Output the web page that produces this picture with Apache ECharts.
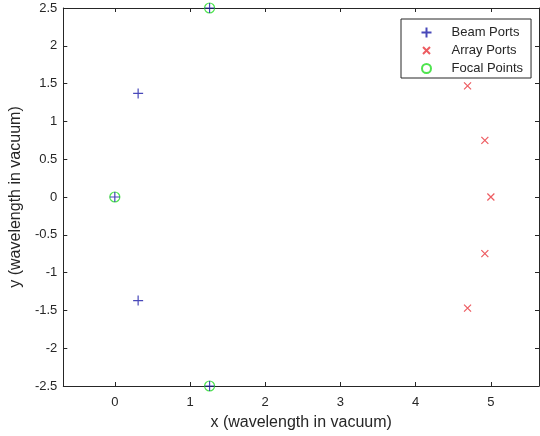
<!DOCTYPE html>
<html>
<head>
<meta charset="utf-8">
<script src="https://cdn.jsdelivr.net/npm/echarts@6/dist/echarts.min.js"></script>
<style>
  html, body { margin: 0; padding: 0; background: #fff; }
  #chart { width: 540px; height: 436px; }
</style>
</head>
<body>
<div id="chart"></div>
<script>
// values
const beamPorts = [[0, 0], [0.31, 1.37], [0.31, -1.37], [1.26, 2.5], [1.26, -2.5]]
const arrayPorts = [[4.69, 1.47], [4.92, 0.75], [5.0, 0], [4.92, -0.75], [4.69, -1.47]]
const focalPoints = [[0, 0], [1.26, 2.5], [1.26, -2.5]]
const xTicks = [0, 1, 2, 3, 4, 5]
const yTicks = [-2.5, -2, -1.5, -1, -0.5, 0, 0.5, 1, 1.5, 2, 2.5]

const axisColor = '#262626'
const font = 'Liberation Sans, Arial, sans-serif'
const plusPath = 'path://M0,5L10,5M5,0L5,10'
const crossPath = 'path://M0,0L10,10M10,0L0,10'
// legend icons: padded with invisible move-to points so they keep the marker size
const plusIcon = 'path://M0,0M14,14M2,7L12,7M7,2L7,12'
const crossIcon = 'path://M0,0M14,14M3.5,3.5L10.5,10.5M10.5,3.5L3.5,10.5'
const circleIcon = 'path://M0,0M14,14M11.5,7A4.5,4.5,0,1,1,2.5,7A4.5,4.5,0,1,1,11.5,7Z'

const xRange = { min: -0.685, max: 5.64 }
const yRange = { min: -2.5, max: 2.5 }

function frameAxis (extra, ticks) {
  return Object.assign({
    type: 'value',
    axisLine: { show: true, onZero: false, lineStyle: { color: axisColor, width: 1 } },
    axisTick: { show: true, inside: true, length: 4, customValues: ticks, lineStyle: { color: axisColor } },
    splitLine: { show: false },
    axisLabel: { show: false }
  }, extra)
}

const chart = echarts.init(document.getElementById('chart'))
chart.setOption({
  animation: false,
  backgroundColor: '#fff',
  textStyle: { fontFamily: font },
  grid: { left: 62, right: 1, top: 8, bottom: 49 },
  xAxis: [
    frameAxis(Object.assign({}, xRange, {
      position: 'bottom',
      name: 'x (wavelength in vacuum)',
      nameLocation: 'middle',
      nameGap: 29,
      nameTextStyle: { color: axisColor, fontSize: 16, fontFamily: font },
      axisLabel: { show: true, customValues: xTicks, color: axisColor, fontSize: 13, margin: 10, fontFamily: font }
    }), xTicks),
    frameAxis(Object.assign({}, xRange, { position: 'top' }), xTicks)
  ],
  yAxis: [
    frameAxis(Object.assign({}, yRange, {
      position: 'left',
      name: 'y (wavelength in vacuum)',
      nameLocation: 'middle',
      nameGap: 30,
      nameTextStyle: { color: axisColor, fontSize: 16, fontFamily: font },
      axisLabel: { show: true, customValues: yTicks, color: axisColor, fontSize: 13, margin: 6, fontFamily: font }
    }), yTicks),
    frameAxis(Object.assign({}, yRange, { position: 'right' }), yTicks)
  ],
  legend: {
    orient: 'vertical',
    left: 401,
    top: 19,
    padding: [4, 8, 0, 16],
    itemWidth: 40,
    itemHeight: 14,
    itemGap: -1,
    backgroundColor: '#fff',
    borderColor: axisColor,
    borderWidth: 1,
    borderRadius: 0,
    textStyle: { color: axisColor, fontSize: 13, lineHeight: 14, fontFamily: font },
    data: [
      { name: 'Beam Ports', icon: plusIcon },
      { name: 'Array Ports', icon: crossIcon },
      { name: 'Focal Points', icon: circleIcon }
    ]
  },
  series: [
    {
      name: 'Focal Points',
      type: 'scatter',
      data: focalPoints,
      symbol: 'circle',
      symbolSize: 10,
      z: 2,
      itemStyle: { color: 'none', borderColor: '#22dd22', borderWidth: 1.2 }
    },
    {
      name: 'Beam Ports',
      type: 'scatter',
      data: beamPorts,
      symbol: plusPath,
      symbolSize: 10,
      z: 3,
      itemStyle: { color: 'none', borderColor: '#1a1aa8', borderWidth: 1.2 }
    },
    {
      name: 'Array Ports',
      type: 'scatter',
      data: arrayPorts,
      symbol: crossPath,
      symbolSize: 7,
      z: 3,
      itemStyle: { color: 'none', borderColor: '#e8333a', borderWidth: 1.2 }
    }
  ]
})
</script>
</body>
</html>
